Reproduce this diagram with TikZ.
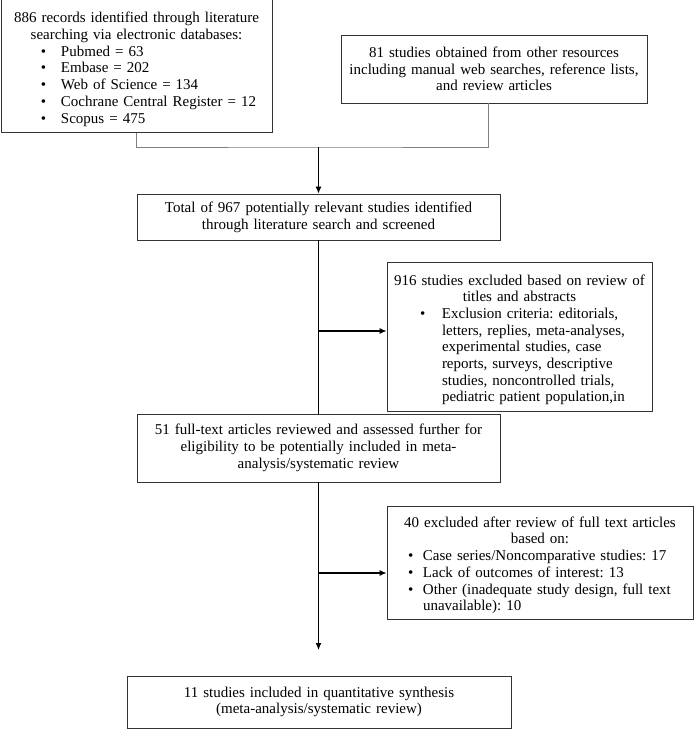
\documentclass[tikz,border=0pt]{standalone}
\usepackage{fontspec}
\setmainfont{Liberation Serif}
\frenchspacing
\usetikzlibrary{arrows.meta,positioning}

% bullet list inside a box: indent, bullet column, rows
\newcommand{\blist}[3]{\makebox[\linewidth][l]{\hspace{#1}\begin{tabular}[t]{@{}p{#2}@{}l@{}}#3\end{tabular}}}
% taller first line, pushes the text down a bit
\newcommand{\tpad}[1]{\rule{0pt}{#1}}

\begin{document}
\begin{tikzpicture}[x=1pt, y=-1pt, >={Latex[length=7pt,width=6pt]}, line width=1.1pt]
	\tikzstyle{every node} = [rectangle, draw = black!80, line width = 0.9pt, inner sep = 4pt, align = center, font = \fontsize{15}{16.7}\selectfont]
\useasboundingbox (0,0) rectangle (694,729);
\node[minimum width = 271pt, minimum height = 126pt, text width = 263pt] (1) at (136.5,64) {\tpad{23pt}886 records identified through literature\\ searching via electronic databases:\\
  \blist{36pt}{20pt}{\textbullet & Pubmed = 63\\ \textbullet & Embase = 202\\ \textbullet & Web of Science = 134\\ \textbullet & Cochrane Central Register = 12\\ \textbullet & Scopus = 475}};
\node[minimum width = 306pt, minimum height = 68pt, text width = 298pt] (2) at (494,69) {81 studies obtained from other resources\\ including manual web searches, reference lists,\\ and review articles};
\node[minimum width = 363pt, minimum height = 46pt, text width = 355pt] (3) at (318.5,217) {Total of 967 potentially relevant studies identified\\ through literature search and screened};
\node[minimum width = 265pt, minimum height = 147pt, text width = 257pt] (5) at (519.5,336.5) {\tpad{19pt}916 studies excluded based on review of\\ titles and abstracts\\
  \blist{29pt}{22pt}{\textbullet & Exclusion criteria: editorials,\\ & letters, replies, meta-analyses,\\ & experimental studies, case\\ & reports, surveys, descriptive\\ & studies, noncontrolled trials,\\ & pediatric patient population,in}};
\node[minimum width = 363pt, minimum height = 68pt, text width = 355pt] (4) at (318.5,448) {51 full-text articles reviewed and assessed further for\\ eligibility to be potentially included in meta-\\ analysis/systematic review};
\node[minimum width = 306pt, minimum height = 112pt, text width = 298pt] (6) at (540,563) {\tpad{17pt}40 excluded after review of full text articles\\ based on:\\
  \blist{17pt}{15pt}{\textbullet & Case series/Noncomparative studies: 17\\ \textbullet & Lack of outcomes of interest: 13\\ \textbullet & Other (inadequate study design, full text\\ & unavailable): 10}};
\node[minimum width = 384pt, minimum height = 52pt, text width = 376pt] (7) at (319,702) {11 studies included in quantitative synthesis\\ (meta-analysis/systematic review)};
\coordinate (j) at (318.5,147);
\coordinate (e) at (318.5,650);
	\path[draw][gray, line width = 0.6pt] (1.south) |- (j) -| ([xshift=-6pt]2.south);
	\path[draw][->] (j) -- (3);
	\path[draw] (3) -- (4);
	\path[draw][->] (3.south |- 5.west) ++(0,-5.5) -- ([yshift=5.5pt]5.west);
	\path[draw][->] (4.south) -- (e);
	\path[draw][->] (4.south |- 6.west) ++(0,10) -- ([yshift=-10pt]6.west);
\end{tikzpicture}
\end{document}
